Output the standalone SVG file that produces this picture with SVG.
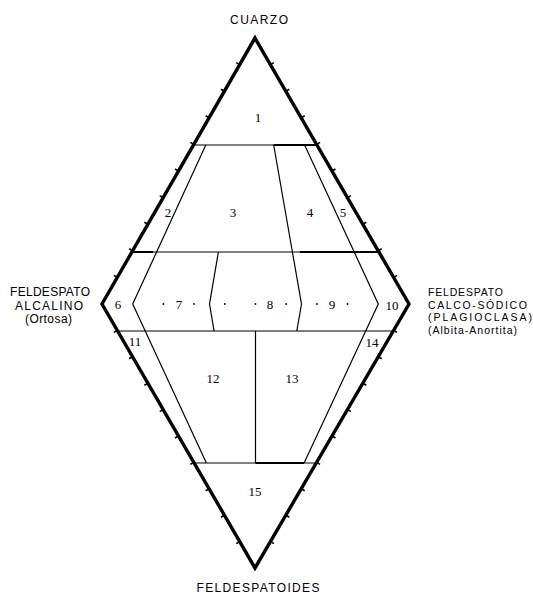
<svg xmlns="http://www.w3.org/2000/svg" width="533" height="596" viewBox="0 0 533 596">
<style>
.frame{fill:none;stroke:#000;stroke-width:3.4;stroke-linejoin:miter}
.tick{fill:none;stroke:#000;stroke-width:1.6}
.ln{fill:none;stroke:#000;stroke-width:1.2}
.lnb{fill:none;stroke:#000;stroke-width:1.9}
.num{font-family:"Liberation Serif",serif;font-size:13px;fill:#000;text-anchor:middle}
.lab{font-family:"Liberation Sans",sans-serif;font-size:12px;fill:#000}
.rl{font-size:10.5px}
.dot{fill:#000}
</style>
<rect width="533" height="596" fill="#fff"/>
<g id="frame">
<polygon class="frame" points="255,38 409,304 255,568 102,304"/>
<path class="tick" d="M239.7,64.6 l-3.5,-2 M224.4,91.2 l-3.5,-2 M209.1,117.8 l-3.5,-2 M193.8,144.4 l-3.5,-2 M178.5,171 l-3.5,-2 M163.2,197.6 l-3.5,-2 M147.9,224.2 l-3.5,-2 M132.6,250.8 l-3.5,-2 M117.3,277.4 l-3.5,-2
M270.4,64.6 l3.5,-2 M285.8,91.2 l3.5,-2 M301.2,117.8 l3.5,-2 M316.6,144.4 l3.5,-2 M332,171 l3.5,-2 M347.4,197.6 l3.5,-2 M362.8,224.2 l3.5,-2 M378.2,250.8 l3.5,-2 M393.6,277.4 l3.5,-2
M117.3,330.4 l-3.5,2 M132.6,356.8 l-3.5,2 M147.9,383.2 l-3.5,2 M163.2,409.6 l-3.5,2 M178.5,436 l-3.5,2 M193.8,462.4 l-3.5,2 M209.1,488.8 l-3.5,2 M224.4,515.2 l-3.5,2 M239.7,541.6 l-3.5,2
M393.6,330.4 l3.5,2 M378.2,356.8 l3.5,2 M362.8,383.2 l3.5,2 M347.4,409.6 l3.5,2 M332,436 l3.5,2 M316.6,462.4 l3.5,2 M301.2,488.8 l3.5,2 M285.8,515.2 l3.5,2 M270.4,541.6 l3.5,2"/>
</g>
<g id="connectors">
<path class="ln" d="M193.5,145 H316.9"/>
<path class="lnb" d="M273.7,145 H316.9"/>
<path class="ln" d="M131.9,252 H378.9"/>
<path class="lnb" d="M300,252 H378.9 M132,252 H153"/>
<path class="ln" d="M117.6,331 H393.2"/>
<path class="ln" d="M194.1,463 H316.3"/>
<path class="lnb" d="M255.5,463 H304"/>
<path class="ln" d="M205.8,145 L132.7,304 L206.4,463"/>
<path class="ln" d="M218.4,252 L209.5,304 L214.1,331"/>
<path class="ln" d="M273.7,145 L292.4,252 L301.5,304 L296.8,331"/>
<path class="ln" d="M304.6,145 L378.3,304 L365.7,331 L304.1,463"/>
<path class="ln" d="M255.5,331 V463"/>
</g>
<g id="dots">
<circle class="dot" cx="163.4" cy="304" r="0.9"/>
<circle class="dot" cx="194" cy="304" r="0.9"/>
<circle class="dot" cx="224.8" cy="304" r="0.9"/>
<circle class="dot" cx="255.5" cy="304" r="0.9"/>
<circle class="dot" cx="286.2" cy="304" r="0.9"/>
<circle class="dot" cx="316.9" cy="304" r="0.9"/>
<circle class="dot" cx="347.6" cy="304" r="0.9"/>
</g>
<g id="f1"><text class="num" x="258" y="122">1</text></g>
<g id="f2"><text class="num" x="168" y="217">2</text></g>
<g id="f3"><text class="num" x="233" y="217">3</text></g>
<g id="f4"><text class="num" x="310" y="217">4</text></g>
<g id="f5"><text class="num" x="343" y="217">5</text></g>
<g id="f6"><text class="num" x="118" y="309">6</text></g>
<g id="f7"><text class="num" x="179" y="309">7</text></g>
<g id="f8"><text class="num" x="270" y="309">8</text></g>
<g id="f9"><text class="num" x="332" y="309">9</text></g>
<g id="f10"><text class="num" x="392" y="310">10</text></g>
<g id="f11"><text class="num" x="135" y="346">11</text></g>
<g id="f12"><text class="num" x="213" y="383">12</text></g>
<g id="f13"><text class="num" x="292" y="383">13</text></g>
<g id="f14"><text class="num" x="372" y="347">14</text></g>
<g id="f15"><text class="num" x="255" y="496">15</text></g>
<g id="cuarzo"><text class="lab" x="259" y="24" text-anchor="middle" font-size="13" textLength="58" lengthAdjust="spacing">CUARZO</text></g>
<g id="feldespatoides"><text class="lab" x="258" y="591.5" text-anchor="middle" font-size="13" textLength="123" lengthAdjust="spacing">FELDESPATOIDES</text></g>
<g id="alcalino">
<text class="lab" x="50" y="296" text-anchor="middle" textLength="80" lengthAdjust="spacing">FELDESPATO</text>
<text class="lab" x="49" y="309.5" text-anchor="middle" textLength="68" lengthAdjust="spacing">ALCALINO</text>
<text class="lab" x="48.5" y="322.5" text-anchor="middle" font-size="11" textLength="47" lengthAdjust="spacing">(Ortosa)</text>
</g>
<g id="plagioclasa">
<text class="lab rl" x="428" y="296" textLength="75" lengthAdjust="spacing">FELDESPATO</text>
<text class="lab rl" x="428" y="308.5" textLength="99" lengthAdjust="spacing">CALCO-SÓDICO</text>
<text class="lab rl" x="428" y="321" textLength="104" lengthAdjust="spacing">(PLAGIOCLASA)</text>
<text class="lab rl" x="428" y="333.5" font-size="10" textLength="89" lengthAdjust="spacing">(Albita-Anortita)</text>
</g>
</svg>
